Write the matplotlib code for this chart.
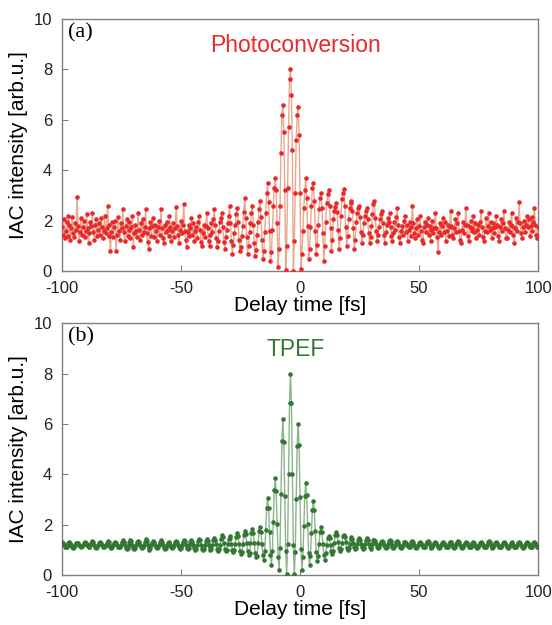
import numpy as np
import matplotlib
matplotlib.use("Agg")
import matplotlib.pyplot as plt

plt.rcParams['font.family'] = ['Liberation Sans', 'DejaVu Sans']
plt.rcParams['axes.unicode_minus'] = False

# delay axis, 8 samples per fringe (0.4 fs step)
delay = np.linspace(-100, 100, 501)

# photoconversion IAC, one row per fringe
photo = [
    1.75, 1.45, 2.05, 1.30, 1.60, 1.95, 1.40, 2.20,
    1.85, 1.25, 1.70, 2.15, 1.50, 1.35, 1.90, 1.65,
    2.95, 1.80, 1.20, 1.55, 2.10, 1.45, 1.75, 2.00,
    1.35, 1.60, 2.25, 1.70, 1.10, 1.50, 1.95, 1.80,
    2.30, 1.55, 1.25, 1.85, 2.05, 1.40, 1.65, 1.90,
    1.45, 2.10, 1.75, 1.30, 1.60, 2.20, 1.50, 1.70,
    2.60, 1.85, 1.40, 0.80, 1.55, 1.95, 1.35, 1.75,
    2.00, 0.80, 1.45, 2.15, 1.60, 1.25, 1.90, 1.70,
    2.45, 1.55, 1.20, 1.80, 2.05, 1.40, 1.65, 1.95,
    1.30, 1.75, 2.20, 0.95, 1.50, 1.85, 1.60, 1.35,
    2.30, 1.65, 1.25, 1.90, 1.45, 2.05, 1.55, 1.75,
    2.45, 1.50, 1.15, 0.90, 1.70, 1.95, 1.40, 1.80,
    2.10, 1.35, 1.85, 1.60, 1.20, 1.75, 2.00, 1.45,
    2.45, 1.70, 1.30, 1.10, 1.85, 1.55, 1.95, 1.65,
    1.40, 2.20, 1.75, 1.20, 1.60, 1.90, 1.35, 1.70,
    2.55, 1.80, 1.45, 1.10, 1.65, 2.00, 1.50, 1.85,
    2.65, 1.60, 1.25, 0.95, 1.55, 1.85, 1.40, 1.70,
    2.10, 1.45, 1.90, 1.20, 1.60, 1.75, 1.30, 1.95,
    2.20, 1.65, 1.15, 1.00, 1.50, 1.85, 1.35, 1.80,
    2.30, 1.70, 1.20, 1.00, 1.45, 1.90, 1.55, 2.05,
    2.45, 1.85, 1.30, 0.95, 1.20, 1.60, 1.95, 2.10,
    2.30, 1.75, 1.15, 0.90, 1.35, 1.65, 1.90, 2.20,
    2.60, 1.90, 1.20, 0.70, 1.05, 1.50, 1.85, 2.25,
    2.50, 1.95, 1.25, 0.80, 0.95, 1.40, 1.80, 2.35,
    2.90, 2.10, 1.35, 0.70, 1.00, 1.55, 1.90, 2.30,
    2.60, 1.85, 1.10, 0.60, 0.85, 1.45, 1.95, 2.45,
    2.80, 2.15, 1.25, 0.50, 0.80, 1.55, 2.30, 3.10,
    3.50, 2.75, 1.60, 0.40, 0.75, 1.65, 2.60, 3.30,
    3.70, 3.20, 1.90, 0.15, 0.90, 2.60, 4.70, 6.20,
    6.60, 5.50, 3.20, 0.05, 1.00, 3.30, 5.70, 7.60,
    8.00, 7.00, 4.80, 0.00, 1.20, 3.10, 5.20, 6.20,
    6.50, 5.40, 3.10, 0.10, 0.70, 1.60, 2.50, 3.20,
    3.70, 2.90, 1.80, 0.50, 0.90, 1.75, 2.60, 3.30,
    3.50, 2.80, 1.60, 0.70, 1.05, 1.85, 2.45, 2.90,
    3.10, 2.50, 1.50, 0.40, 1.00, 1.95, 2.70, 3.05,
    3.20, 2.60, 1.70, 0.80, 1.25, 2.05, 2.40, 2.55,
    2.70, 2.35, 1.65, 0.90, 1.30, 2.20, 2.85, 3.10,
    3.25, 2.60, 1.75, 1.00, 1.40, 2.05, 2.50, 2.70,
    2.80, 2.40, 1.70, 0.90, 1.25, 1.95, 2.30, 2.50,
    2.60, 2.15, 1.55, 1.10, 1.45, 1.90, 2.20, 2.40,
    2.50, 2.05, 1.50, 1.10, 1.35, 1.80, 2.25, 2.65,
    2.80, 2.10, 1.60, 1.20, 1.45, 1.75, 2.05, 2.25,
    2.40, 1.90, 1.45, 1.10, 1.55, 1.85, 2.10, 1.95,
    2.30, 1.75, 1.40, 1.20, 1.50, 1.95, 1.65, 2.15,
    2.50, 1.85, 1.35, 1.10, 1.60, 1.80, 1.45, 2.00,
    2.20, 1.55, 1.85, 1.20, 1.65, 1.95, 1.40, 1.75,
    2.60, 1.90, 1.50, 1.30, 1.70, 2.05, 1.45, 1.80,
    2.20, 1.60, 1.25, 1.10, 1.75, 1.95, 1.55, 1.85,
    2.10, 1.45, 1.80, 1.20, 1.65, 2.00, 1.50, 1.70,
    2.30, 1.70, 1.35, 0.75, 1.55, 1.90, 1.45, 1.80,
    2.10, 1.55, 1.95, 1.20, 1.60, 1.85, 1.40, 1.75,
    2.40, 1.80, 1.45, 1.30, 1.70, 2.05, 1.55, 1.90,
    2.30, 1.60, 1.25, 1.10, 1.65, 1.95, 1.50, 1.85,
    2.50, 1.85, 1.40, 1.20, 1.75, 2.00, 1.60, 1.70,
    2.20, 1.55, 1.90, 1.30, 1.65, 1.85, 1.45, 1.95,
    2.40, 1.75, 1.35, 1.20, 1.60, 2.10, 1.55, 1.80,
    2.30, 1.65, 1.95, 1.30, 1.70, 1.90, 1.50, 1.75,
    2.20, 1.85, 1.40, 1.20, 1.75, 2.05, 1.60, 1.90,
    2.40, 1.70, 1.30, 1.30, 1.65, 1.95, 1.55, 1.85,
    2.30, 1.80, 1.45, 1.10, 1.70, 2.10, 1.60, 1.95,
    2.75, 1.90, 1.50, 1.30, 1.75, 2.00, 1.55, 1.85,
    2.20, 1.75, 2.05, 1.40, 1.80, 2.15, 1.60, 1.95,
    2.50, 1.85, 1.45, 1.30, 1.75,
]

# TPEF IAC, same sampling
tpef = [
    1.30, 1.27, 1.20, 1.13, 1.10, 1.13, 1.20, 1.27,
    1.32, 1.28, 1.20, 1.12, 1.08, 1.12, 1.20, 1.26,
    1.28, 1.26, 1.20, 1.14, 1.12, 1.14, 1.20, 1.26,
    1.30, 1.27, 1.21, 1.14, 1.10, 1.12, 1.19, 1.28,
    1.34, 1.30, 1.21, 1.12, 1.08, 1.12, 1.20, 1.27,
    1.30, 1.27, 1.20, 1.13, 1.10, 1.14, 1.21, 1.29,
    1.35, 1.30, 1.21, 1.11, 1.06, 1.10, 1.19, 1.27,
    1.32, 1.28, 1.20, 1.13, 1.10, 1.12, 1.20, 1.30,
    1.38, 1.33, 1.21, 1.09, 1.04, 1.08, 1.19, 1.31,
    1.40, 1.34, 1.21, 1.08, 1.02, 1.07, 1.19, 1.30,
    1.36, 1.31, 1.21, 1.11, 1.06, 1.10, 1.21, 1.33,
    1.42, 1.35, 1.21, 1.07, 1.00, 1.06, 1.19, 1.29,
    1.34, 1.30, 1.20, 1.10, 1.06, 1.10, 1.20, 1.31,
    1.38, 1.33, 1.21, 1.09, 1.04, 1.09, 1.20, 1.28,
    1.32, 1.29, 1.20, 1.12, 1.08, 1.11, 1.20, 1.30,
    1.36, 1.31, 1.20, 1.10, 1.05, 1.09, 1.20, 1.32,
    1.40, 1.34, 1.21, 1.08, 1.02, 1.06, 1.19, 1.32,
    1.38, 1.33, 1.20, 1.07, 1.00, 1.05, 1.19, 1.34,
    1.44, 1.37, 1.21, 1.05, 0.98, 1.04, 1.20, 1.34,
    1.42, 1.36, 1.21, 1.07, 1.00, 1.04, 1.20, 1.37,
    1.48, 1.40, 1.22, 1.04, 0.96, 1.02, 1.21, 1.43,
    1.60, 1.50, 1.27, 1.04, 0.95, 1.00, 1.22, 1.44,
    1.55, 1.45, 1.22, 0.99, 0.90, 0.98, 1.25, 1.52,
    1.65, 1.53, 1.25, 0.97, 0.85, 0.93, 1.25, 1.59,
    1.75, 1.61, 1.27, 0.94, 0.80, 0.88, 1.26, 1.66,
    1.82, 1.66, 1.26, 0.86, 0.70, 0.77, 1.26, 1.76,
    1.90, 1.71, 1.25, 0.79, 0.60, 0.95, 1.80, 2.65,
    3.05, 2.66, 1.72, 0.79, 0.40, 0.94, 2.12, 3.36,
    3.85, 3.32, 2.02, 0.73, 0.20, 1.07, 3.20, 5.33,
    6.20, 5.30, 3.12, 0.95, 0.05, 1.23, 4.02, 6.82,
    8.00, 6.84, 4.02, 1.20, 0.05, 0.92, 3.02, 5.13,
    6.00, 5.15, 3.10, 1.05, 0.20, 0.72, 1.93, 3.13,
    3.65, 3.17, 2.02, 0.87, 0.40, 0.77, 1.68, 2.58,
    2.95, 2.60, 1.75, 0.90, 0.55, 0.74, 1.23, 1.71,
    1.90, 1.71, 1.25, 0.79, 0.60, 0.87, 1.20, 1.45,
    1.55, 1.45, 1.20, 0.95, 0.85, 0.97, 1.28, 1.58,
    1.70, 1.59, 1.33, 1.06, 0.95, 1.02, 1.28, 1.53,
    1.60, 1.51, 1.30, 1.09, 1.00, 1.06, 1.25, 1.44,
    1.50, 1.43, 1.27, 1.11, 1.05, 1.09, 1.25, 1.40,
    1.45, 1.39, 1.25, 1.11, 1.05, 1.09, 1.25, 1.40,
    1.45, 1.39, 1.25, 1.11, 1.05, 1.10, 1.24, 1.37,
    1.40, 1.35, 1.24, 1.13, 1.08, 1.11, 1.22, 1.32,
    1.36, 1.32, 1.21, 1.10, 1.06, 1.10, 1.22, 1.34,
    1.38, 1.34, 1.23, 1.12, 1.08, 1.10, 1.21, 1.31,
    1.34, 1.30, 1.20, 1.10, 1.06, 1.10, 1.20, 1.30,
    1.32, 1.29, 1.21, 1.14, 1.10, 1.12, 1.22, 1.32,
    1.36, 1.32, 1.21, 1.10, 1.06, 1.11, 1.19, 1.27,
    1.30, 1.27, 1.20, 1.13, 1.10, 1.13, 1.22, 1.31,
    1.34, 1.30, 1.21, 1.12, 1.08, 1.10, 1.20, 1.29,
    1.32, 1.28, 1.19, 1.10, 1.06, 1.10, 1.18, 1.27,
    1.30, 1.27, 1.20, 1.13, 1.10, 1.13, 1.22, 1.30,
    1.33, 1.29, 1.21, 1.12, 1.08, 1.10, 1.22, 1.33,
    1.36, 1.32, 1.21, 1.10, 1.06, 1.10, 1.18, 1.27,
    1.30, 1.27, 1.20, 1.13, 1.10, 1.13, 1.21, 1.29,
    1.32, 1.28, 1.20, 1.12, 1.08, 1.12, 1.19, 1.27,
    1.30, 1.27, 1.20, 1.13, 1.10, 1.12, 1.21, 1.31,
    1.34, 1.30, 1.21, 1.12, 1.08, 1.12, 1.19, 1.27,
    1.30, 1.27, 1.20, 1.13, 1.10, 1.12, 1.20, 1.29,
    1.32, 1.28, 1.20, 1.12, 1.08, 1.12, 1.20, 1.28,
    1.30, 1.27, 1.20, 1.13, 1.10, 1.12, 1.20, 1.29,
    1.32, 1.28, 1.20, 1.12, 1.08, 1.12, 1.20, 1.28,
    1.30, 1.27, 1.20, 1.13, 1.10, 1.13, 1.20, 1.27,
    1.30, 1.27, 1.20, 1.13, 1.10,
]

xticks = [-100, -50, 0, 50, 100]
yticks = [0, 2, 4, 6, 8, 10]

fig = plt.figure(figsize=(5.52, 6.25), dpi=100)
ax1 = fig.add_axes([0.112, 0.566, 0.863, 0.404])
ax2 = fig.add_axes([0.112, 0.080, 0.863, 0.403])

panels = [
    (ax1, photo, '#e8282a', '#eaa78f', 'Photoconversion', '(a)'),
    (ax2, tpef, '#337733', '#8db38d', 'TPEF', '(b)'),
]

for ax, y, mc, lc, name, tag in panels:
    ax.plot(delay, y, '-', color=lc, lw=1.0, zorder=2)
    ax.plot(delay, y, 'o', color=mc, ms=3.3, mew=0, zorder=3)
    ax.set_xlim(-100, 100)
    ax.set_ylim(0, 10)
    ax.set_xticks(xticks)
    ax.set_yticks(yticks)
    ax.tick_params(direction='in', length=4, color='#808080', labelsize=12,
                   labelcolor='#222222', pad=7)
    for s in ax.spines.values():
        s.set_color('#808080')
        s.set_linewidth(1.0)
    ax.set_xlabel('Delay time [fs]', fontsize=15, labelpad=0)
    ax.set_ylabel('IAC intensity [arb.u.]', fontsize=15, labelpad=4)
    ax.text(0.49, 0.895, name, transform=ax.transAxes, color=mc, fontsize=16.5,
            ha='center', va='center')
    ax.text(0.012, 0.944, tag, transform=ax.transAxes, fontsize=16,
            family='Liberation Serif', ha='left', va='center')

fig.savefig('out.png', dpi=100)
